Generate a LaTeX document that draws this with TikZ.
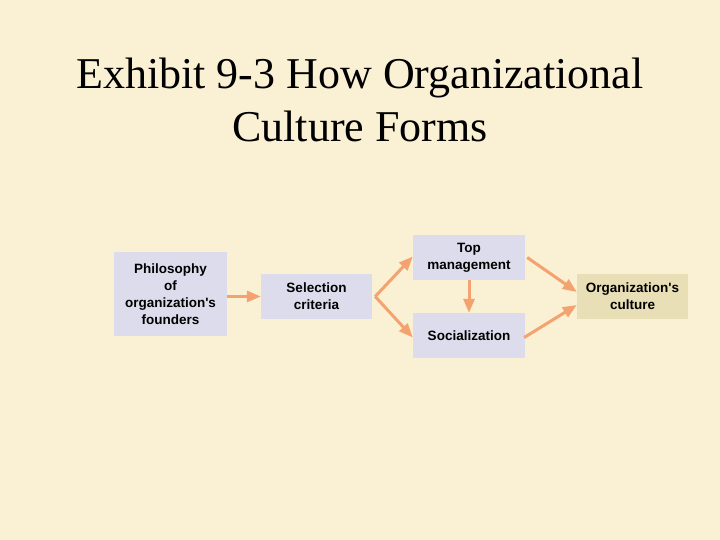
\documentclass[tikz,border=0pt]{standalone}
\usepackage{fontspec}
\setmainfont{Liberation Serif}
\newfontfamily\boxfont{Liberation Sans}
\usetikzlibrary{arrows.meta}
\definecolor{bgc}{HTML}{FAF0D3}
\definecolor{boxc}{HTML}{DCDCEC}
\definecolor{culc}{HTML}{E9DFB6}
\definecolor{arrc}{HTML}{F4A26F}
\tikzset{
  stepbox/.style={fill=boxc, draw=none, inner sep=0pt, align=center,
    font=\boxfont\bfseries\fontsize{13.5}{17}\selectfont, text=black},
  culbox/.style={stepbox, fill=culc},
  flow/.style={draw=arrc, line width=3pt, -{Triangle[length=14pt,width=11pt]}},
  titletext/.style={font=\fontsize{44}{53}\selectfont, anchor=base, inner sep=0pt}
}
\begin{document}
\begin{tikzpicture}[x=1pt,y=-1pt]
\fill[bgc] (0,0) rectangle (720,540);
\useasboundingbox (0,0) rectangle (720,540);
\node[titletext] (t1) at (360,89) {Exhibit 9-3 How Organizational};
\node[titletext] (t2) at (360,142) {Culture Forms};

\node[stepbox, minimum width=113pt, minimum height=84pt] (phil) at (170.5,294) {Philosophy\\of\\organization's\\founders};
\node[stepbox, minimum width=111pt, minimum height=45pt] (sel) at (316.5,296.5) {Selection\\criteria};
\node[stepbox, minimum width=112pt, minimum height=45pt] (top) at (469,257.5) {Top\\management};
\node[stepbox, minimum width=112pt, minimum height=45pt] (soc) at (469,335.5) {Socialization};
\node[culbox, minimum width=111pt, minimum height=45pt] (cul) at (632.5,296.5) {Organization's\\culture};

\coordinate (selout) at ([xshift=3pt]sel.east);
\draw[flow] (phil.east |- sel.west) -- (sel.west);
\draw[flow] (selout) -- ([yshift=1pt]top.west);
\draw[flow] (selout) -- ([yshift=-2pt]soc.west);
\draw[flow] (top.south) -- (soc.north);
\draw[flow] ([xshift=2pt]top.east) -- ([yshift=4.5pt]cul.west);
\draw[flow] ([xshift=-1pt,yshift=-2pt]soc.east) -- ([yshift=-8.5pt]cul.west);
\end{tikzpicture}
\end{document}
